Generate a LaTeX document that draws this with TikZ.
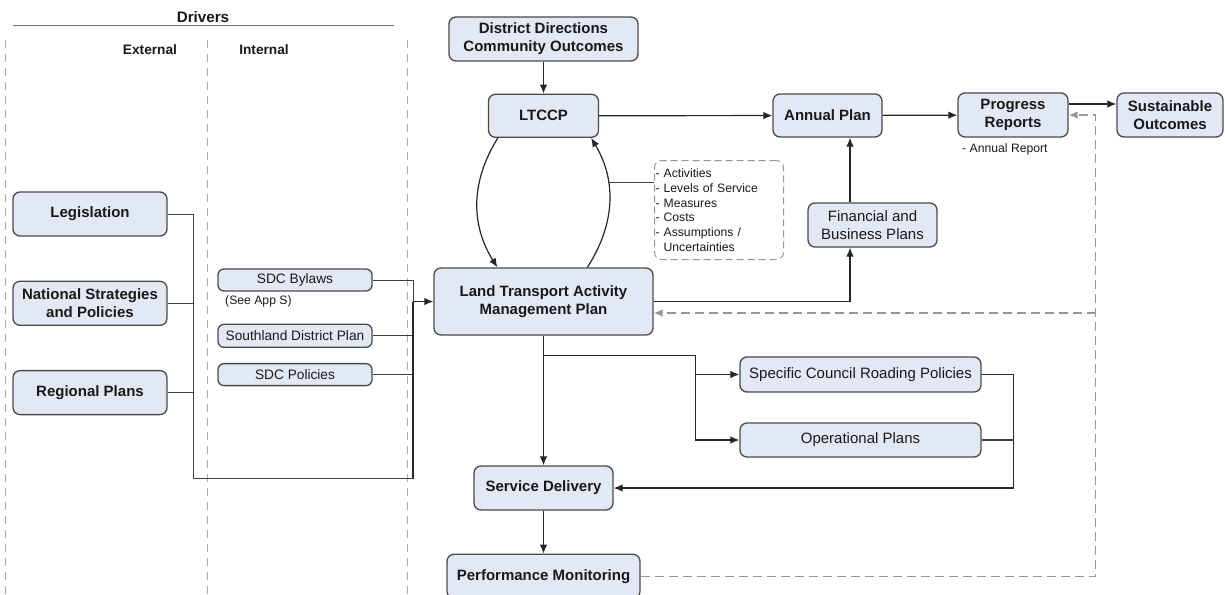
\documentclass[tikz,border=0pt]{standalone}
\usepackage{fontspec}
\setmainfont{Liberation Sans}
\usetikzlibrary{arrows, arrows.meta, positioning, calc}
\definecolor{boxfill}{HTML}{E2E9F5}
\definecolor{boxline}{HTML}{4A4A4A}
\definecolor{dashgray}{HTML}{969696}

\begin{document}
\begin{tikzpicture}[x=1pt, y=-1pt, node distance = 32pt and 40pt]
        \tikzstyle{box} = [rectangle, rounded corners=7pt, draw=boxline, fill=boxfill, line width=1.3pt, inner sep=0pt, align=center, text=black!90]
        \tikzstyle{main} = [box, font=\fontsize{15}{18}\selectfont\bfseries]
        \tikzstyle{plain} = [box, font=\fontsize{15}{18}\selectfont]
        \tikzstyle{small} = [box, rounded corners=6pt, font=\fontsize{13.7}{16}\selectfont, minimum width=154pt]
        \tikzstyle{note} = [inner sep=0pt, font=\fontsize{12.2}{14.7}\selectfont, text=black!90]
        \tikzstyle{head} = [inner sep=0pt, font=\fontsize{13.7}{16}\selectfont\bfseries, text=black!90]
        \tikzstyle{connect} = [-{Latex[length=9pt, width=7.5pt]}, line width=1.2pt, black!85]
        \tikzstyle{feed} = [line width=1pt, black!75]
        \tikzstyle{feedback} = [-{Latex[length=9pt, width=7.5pt]}, line width=1.4pt, dashgray, dash pattern=on 9pt off 5pt]
        \tikzstyle{column} = [line width=0.9pt, dashgray!80, dash pattern=on 8pt off 6pt]
        \useasboundingbox (0,0) rectangle (1225,594);

        % drivers columns
        \node[head, font=\fontsize{15.2}{18}\selectfont\bfseries] (drivers) at (203,17) {Drivers};
        \draw[line width=1pt, black!55] (13,26) -- (394,26);
        \foreach \x in {5,207,407}
          \draw[column] (\x,40) -- (\x,594);
        \node[head] (external) at (150,50) {External};
        \node[head] (internal) at (264,50) {Internal};

        % external drivers
        \node[main, minimum width=154pt, minimum height=44pt] (legis) at (90,214) {Legislation};
        \node[main, minimum width=154pt, minimum height=44pt, below=44pt of legis] (national) {National Strategies\\and Policies};
        \node[main, minimum width=154pt, minimum height=44pt, below=44pt of national] (regional) {Regional Plans};

        % internal drivers
        \node[small, minimum height=22pt] (bylaws) at (295,280) {SDC Bylaws};
        \node[note, anchor=west] (appS) at (225,301) {(See App S)};
        \node[small, minimum height=23pt, below=32pt of bylaws] (sdp) {Southland District Plan};
        \node[small, minimum height=22pt, below=15pt of sdp] (sdcpol) {SDC Policies};

        % planning chain
        \node[main, minimum width=189pt, minimum height=44pt] (dd) at (543.5,39) {District Directions\\Community Outcomes};
        \node[main, minimum width=110pt, minimum height=43pt, below=32pt of dd] (ltccp) {LTCCP};
        \node[main, minimum width=109pt, minimum height=43pt] (annual) at (827.5,115.5) {Annual Plan};
        \node[main, minimum width=110pt, minimum height=44pt] (progress) at (1013,115) {Progress\\Reports};
        \node[note, anchor=west] (annrep) at (962,149) {- Annual Report};
        \node[main, minimum width=106pt, minimum height=44pt] (sustain) at (1170,115) {Sustainable\\Outcomes};
        \node[plain, minimum width=129pt, minimum height=44pt] (financial) at (872.5,225) {Financial and\\Business Plans};
        \node[main, minimum width=219pt, minimum height=67pt] (ltamp) at (543.5,301.5) {Land Transport Activity\\Management Plan};
        \node[note, draw=dashgray, line width=1pt, dash pattern=on 7pt off 4pt, rounded corners=7pt,
              inner xsep=1pt, text width=127pt, minimum height=99pt, align=left, anchor=north west] (list) at (654,160)
              {- Activities\\- Levels of Service\\- Measures\\- Costs\\- Assumptions /\\\phantom{- }Uncertainties};

        % delivery
        \node[plain, minimum width=241pt, minimum height=35pt] (specific) at (860.5,374.5) {Specific Council Roading Policies};
        \node[plain, minimum width=241pt, minimum height=34pt] (oper) at (860.5,440) {Operational Plans};
        \node[main, minimum width=139pt, minimum height=44pt] (sd) at (543.5,488) {Service Delivery};
        \node[main, minimum width=193pt, minimum height=44pt, below=43pt of sd] (pm) {Performance Monitoring};

        % drivers into the plan
        \coordinate (xj) at (193,478);
        \coordinate (ij) at (413,478);
        \draw[feed] (legis.east) -| (xj) -- (ij) |- (bylaws.east);
        \draw[feed] (national.east) -- (national.east -| xj);
        \draw[feed] (regional.east) -- (regional.east -| xj);
        \draw[feed] (sdp.east) -- (sdp.east -| ij);
        \draw[feed] (sdcpol.east) -- (sdcpol.east -| ij);
        \draw[line width=1.6pt, black!85] (ij) -- (ltamp.west -| ij);
        \draw[connect] (ltamp.west -| ij) -- (ltamp.west);

        % top row
        \path (dd) edge [connect] (ltccp)
              (ltccp) edge [connect] (annual)
              (annual) edge [connect] (progress);
        \draw[connect] ($(progress.east)+(0,-11)$) -- ($(sustain.west)+(0,-11)$);
        \draw[connect] ($(financial.north)+(-22.5,0)$) -- ($(annual.south)+(22.5,0)$);
        \draw[connect] (ltamp.east) -| ($(financial.south)+(-22.5,0)$);

        % LTCCP <-> activity plan
        \draw[connect] ($(ltccp.south west)+(10,0)$) .. controls +(-27,43) and +(-27,-43) .. ($(ltamp.north west)+(64,0)$);
        \draw[connect] ($(ltamp.north west)+(154,0)$) .. controls +(27.7,-43) and +(25.7,43) .. ($(ltccp.south east)+(-8,0)$);
        \draw[feed] ($(list.north west)+(0,22)$) -- ++(-46,0);

        % delivery branch
        \coordinate (br) at ($(ltamp.south)+(0,20)$);
        \draw[connect] (ltamp) -- (sd);
        \draw[connect] (br) -| ($(oper.west)+(-44,0)$) -- (oper.west);
        \draw[connect] ($(specific.west)+(-44,0)$) -- (specific.west);
        \draw[connect] (specific.east) -| ($(sd.east)+(400,0)$) -- (sd.east);
        \draw[feed, line width=1.2pt] (oper.east) -- ++(32,0);
        \draw[connect] (sd) -- (pm);

        % monitoring feedback
        \coordinate (fbk) at ($(progress.east)+(27,0)$);
        \coordinate (ltin) at ($(ltamp.east)+(0,11.5)$);
        \draw[feedback] (pm.east) -| (fbk) -- (progress.east);
        \draw[feedback] (fbk |- ltin) -- (ltin);
      \end{tikzpicture}
\end{document}
